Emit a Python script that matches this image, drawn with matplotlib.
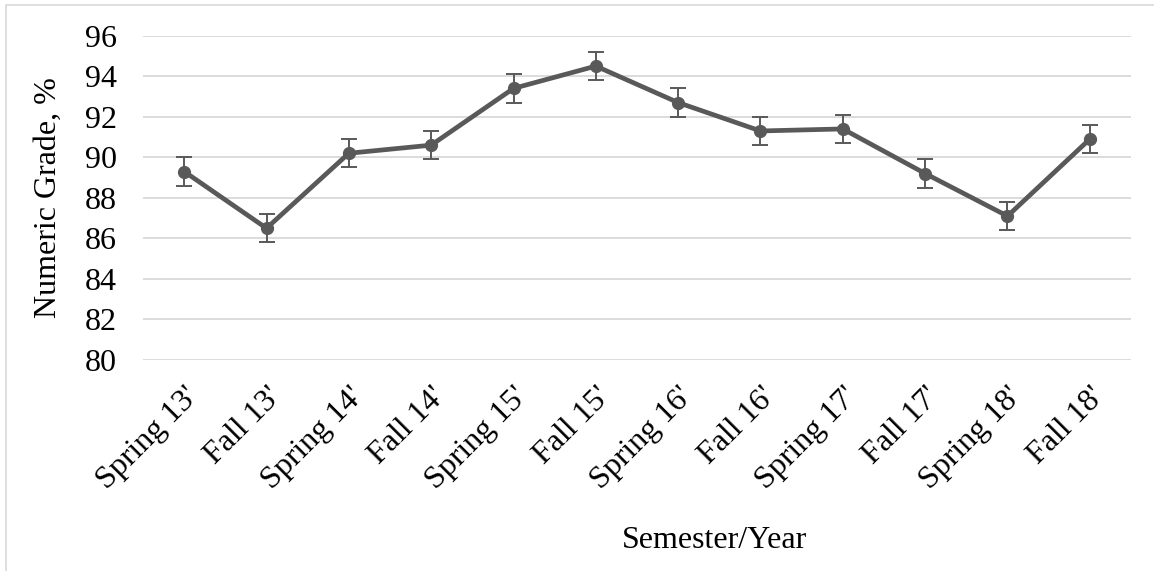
import numpy as np
import matplotlib.pyplot as plt
from matplotlib.patches import Rectangle

semesters = ["Spring 13'", "Fall 13'", "Spring 14'", "Fall 14'", "Spring 15'", "Fall 15'",
             "Spring 16'", "Fall 16'", "Spring 17'", "Fall 17'", "Spring 18'", "Fall 18'"]
grades = [89.3, 86.5, 90.2, 90.6, 93.4, 94.5, 92.7, 91.3, 91.4, 89.2, 87.1, 90.9]
errors = [0.7, 0.7, 0.7, 0.7, 0.7, 0.7, 0.7, 0.7, 0.7, 0.7, 0.7, 0.7]
yticks = [80, 82, 84, 86, 88, 90, 92, 94, 96]

plt.rcParams['font.family'] = ['Liberation Serif', 'DejaVu Serif']

fig = plt.figure(figsize=(11.54, 5.71), dpi=100)
ax = fig.add_axes([143 / 1154, 1 - 360 / 571, 988 / 1154, (360 - 35.7) / 571])

x = np.arange(len(semesters))
ax.errorbar(x, grades, yerr=errors, color='#595959', linewidth=3.4, marker='o',
             markersize=8.5, ecolor='#595959', elinewidth=1.4, capsize=6, capthick=1.4,
             zorder=3)

ax.set_xlim(-0.5, len(semesters) - 0.5)
ax.set_ylim(80, 96)
ax.set_yticks(yticks)
ax.set_xticks(x)
ax.set_xticklabels(semesters, rotation=45, ha='right', rotation_mode='anchor')
ax.tick_params(axis='both', length=0, labelsize=23, colors='black')
ax.tick_params(axis='x', pad=16)
ax.tick_params(axis='y', pad=19)
ax.grid(axis='y', color='#d9d9d9', linewidth=1.3)
ax.set_axisbelow(True)
for s in ax.spines.values():
    s.set_visible(False)

fig.text(48 / 1154, 1 - 198 / 571, 'Numeric Grade, %', fontsize=23, rotation=90,
         ha='center', va='center')
fig.text(714 / 1154, 1 - 540 / 571, 'Semester/Year', fontsize=23, ha='center', va='center')

# outer chart border (only left and top edges visible)
fig.patches.append(Rectangle((6 / 1154, -0.1), 1.2, 1.1 - 5 / 571, transform=fig.transFigure,
                             fill=False, edgecolor='#d9d9d9', linewidth=1.2))

fig.savefig('out.png', dpi=100)
